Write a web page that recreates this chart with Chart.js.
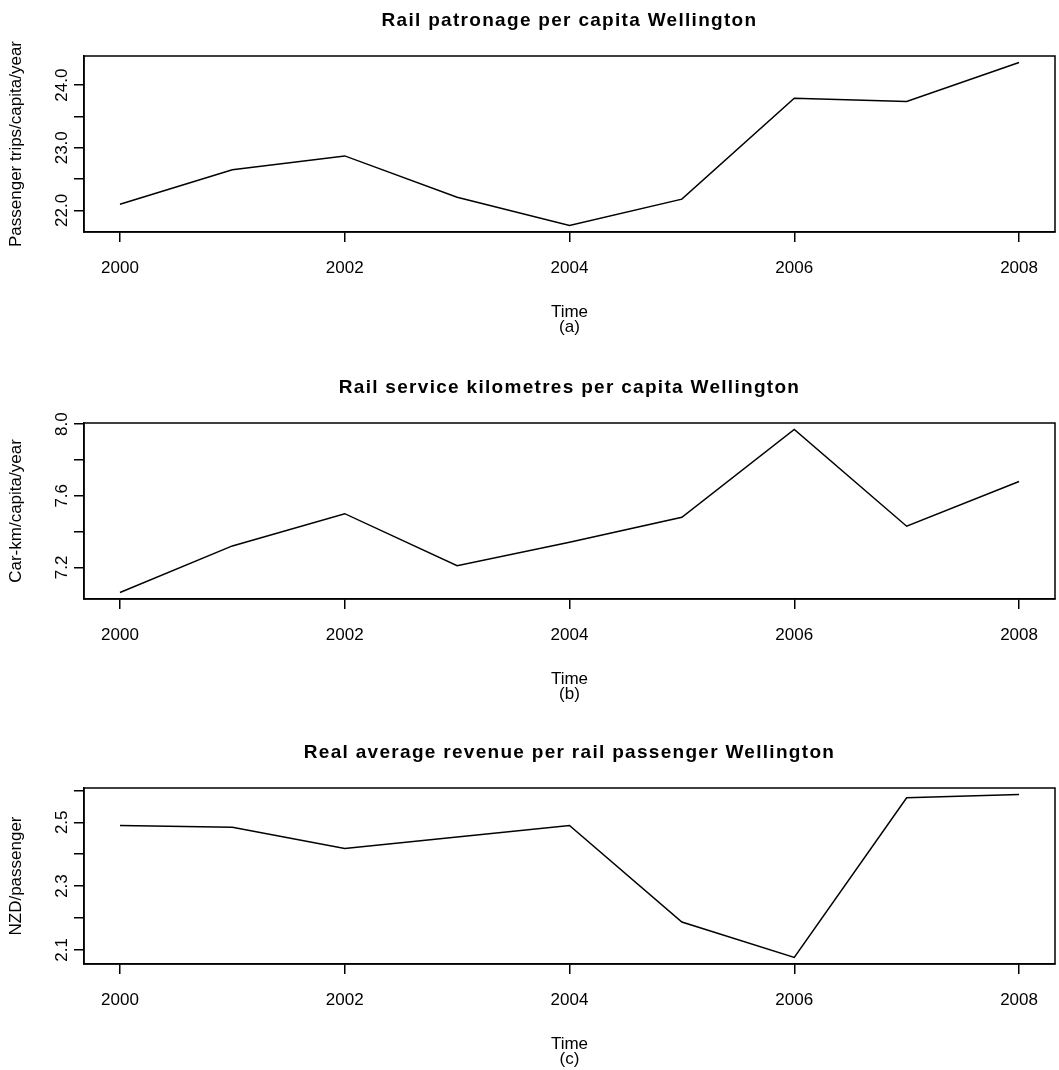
<!DOCTYPE html>
<html>
<head>
<meta charset="utf-8">
<script src="https://cdn.jsdelivr.net/npm/chart.js@4/dist/chart.umd.min.js"></script>
<style>
  body { margin: 0; background: #fff; overflow: hidden; }
  canvas { position: absolute; left: 0; }
</style>
</head>
<body>
<canvas id="c1" width="1059" height="338" style="top:0px"></canvas>
<canvas id="c2" width="1059" height="338" style="top:367px"></canvas>
<canvas id="c3" width="1059" height="338" style="top:732px"></canvas>
<script>
// data
const years = [2000, 2001, 2002, 2003, 2004, 2005, 2006, 2007, 2008];
const patronage = [22.10, 22.65, 22.87, 22.21, 21.76, 22.18, 23.79, 23.74, 24.36];
const serviceKm = [7.06, 7.32, 7.50, 7.21, 7.34, 7.48, 7.97, 7.43, 7.68];
const revenue = [2.490, 2.484, 2.418, 2.454, 2.490, 2.187, 2.076, 2.577, 2.587];

const xTicks = [2000, 2002, 2004, 2006, 2008];
const yTicksA = [22.0, 22.5, 23.0, 23.5, 24.0];
const yLabelsA = ["22.0", "", "23.0", "", "24.0"];
const yTicksB = [7.2, 7.4, 7.6, 7.8, 8.0];
const yLabelsB = ["7.2", "", "7.6", "", "8.0"];
const yTicksC = [2.1, 2.2, 2.3, 2.4, 2.5, 2.6];
const yLabelsC = ["2.1", "", "2.3", "", "2.5", ""];

const FONT = '"Liberation Sans", Arial, Helvetica, sans-serif';

// R style text + box, drawn after chart
const rText = {
  id: "rText",
  afterDraw(chart, args, opts) {
    const ctx = chart.ctx;
    const a = chart.chartArea;
    const xs = chart.scales.x, ys = chart.scales.y;
    const cx = (a.left + a.right) / 2;
    ctx.save();
    ctx.strokeStyle = "#000";
    ctx.lineWidth = 1.5;
    ctx.strokeRect(a.left, a.top, a.right - a.left, a.bottom - a.top);

    ctx.fillStyle = "#000";
    ctx.textAlign = "center";
    ctx.textBaseline = "alphabetic";
    ctx.font = "bold 19px " + FONT;
    ctx.letterSpacing = "1.3px";
    ctx.fillText(opts.title, cx, a.top - 30);

    ctx.font = "17px " + FONT;
    ctx.letterSpacing = "0px";
    xTicks.forEach(v => ctx.fillText(String(v), xs.getPixelForValue(v), a.bottom + 41));
    ctx.fillText("Time", cx, a.bottom + 85);
    ctx.fillText(opts.tag, cx, a.bottom + 100);

    opts.yTicks.forEach((v, i) => {
      if (!opts.yLabels[i]) return;
      ctx.save();
      ctx.translate(67, ys.getPixelForValue(v));
      ctx.rotate(-Math.PI / 2);
      ctx.fillText(opts.yLabels[i], 0, 0);
      ctx.restore();
    });

    ctx.save();
    ctx.translate(21, (a.top + a.bottom) / 2);
    ctx.rotate(-Math.PI / 2);
    ctx.fillText(opts.yTitle, 0, 0);
    ctx.restore();
    ctx.restore();
  }
};

function makeChart(id, values, yTicks, yLabels, title, yTitle, tag) {
  // R pads axis range by 4% each side
  const lo = Math.min(...values), hi = Math.max(...values);
  const pad = (hi - lo) * 0.04;
  const xpad = (years[years.length - 1] - years[0]) * 0.04;

  new Chart(document.getElementById(id), {
    type: "line",
    data: {
      datasets: [{
        data: years.map((yr, i) => ({ x: yr, y: values[i] })),
        borderColor: "#000",
        borderWidth: 1.5,
        pointRadius: 0,
        tension: 0,
        fill: false
      }]
    },
    options: {
      responsive: false,
      animation: false,
      layout: { padding: { top: 56, right: 4, left: 0, bottom: 0 } },
      plugins: {
        legend: { display: false },
        tooltip: { enabled: false },
        rText: { title, yTitle, tag, yTicks, yLabels }
      },
      scales: {
        x: {
          type: "linear",
          min: years[0] - xpad,
          max: years[years.length - 1] + xpad,
          afterBuildTicks: s => { s.ticks = xTicks.map(v => ({ value: v })); },
          afterFit: s => { s.height = 106; },
          ticks: { display: false },
          grid: { drawOnChartArea: false, drawTicks: true, tickLength: 10, color: "#000", lineWidth: 1.5 },
          border: { display: true, color: "#000", width: 1.5 }
        },
        y: {
          min: lo - pad,
          max: hi + pad,
          afterBuildTicks: s => { s.ticks = yTicks.map(v => ({ value: v })); },
          afterFit: s => { s.width = 84; },
          ticks: { display: false },
          grid: { drawOnChartArea: false, drawTicks: true, tickLength: 10, color: "#000", lineWidth: 1.5 },
          border: { display: true, color: "#000", width: 1.5 }
        }
      }
    },
    plugins: [rText]
  });
}

makeChart("c1", patronage, yTicksA, yLabelsA,
  "Rail patronage per capita Wellington", "Passenger trips/capita/year", "(a)");
makeChart("c2", serviceKm, yTicksB, yLabelsB,
  "Rail service kilometres per capita Wellington", "Car-km/capita/year", "(b)");
makeChart("c3", revenue, yTicksC, yLabelsC,
  "Real average revenue per rail passenger Wellington", "NZD/passenger", "(c)");
</script>
</body>
</html>
